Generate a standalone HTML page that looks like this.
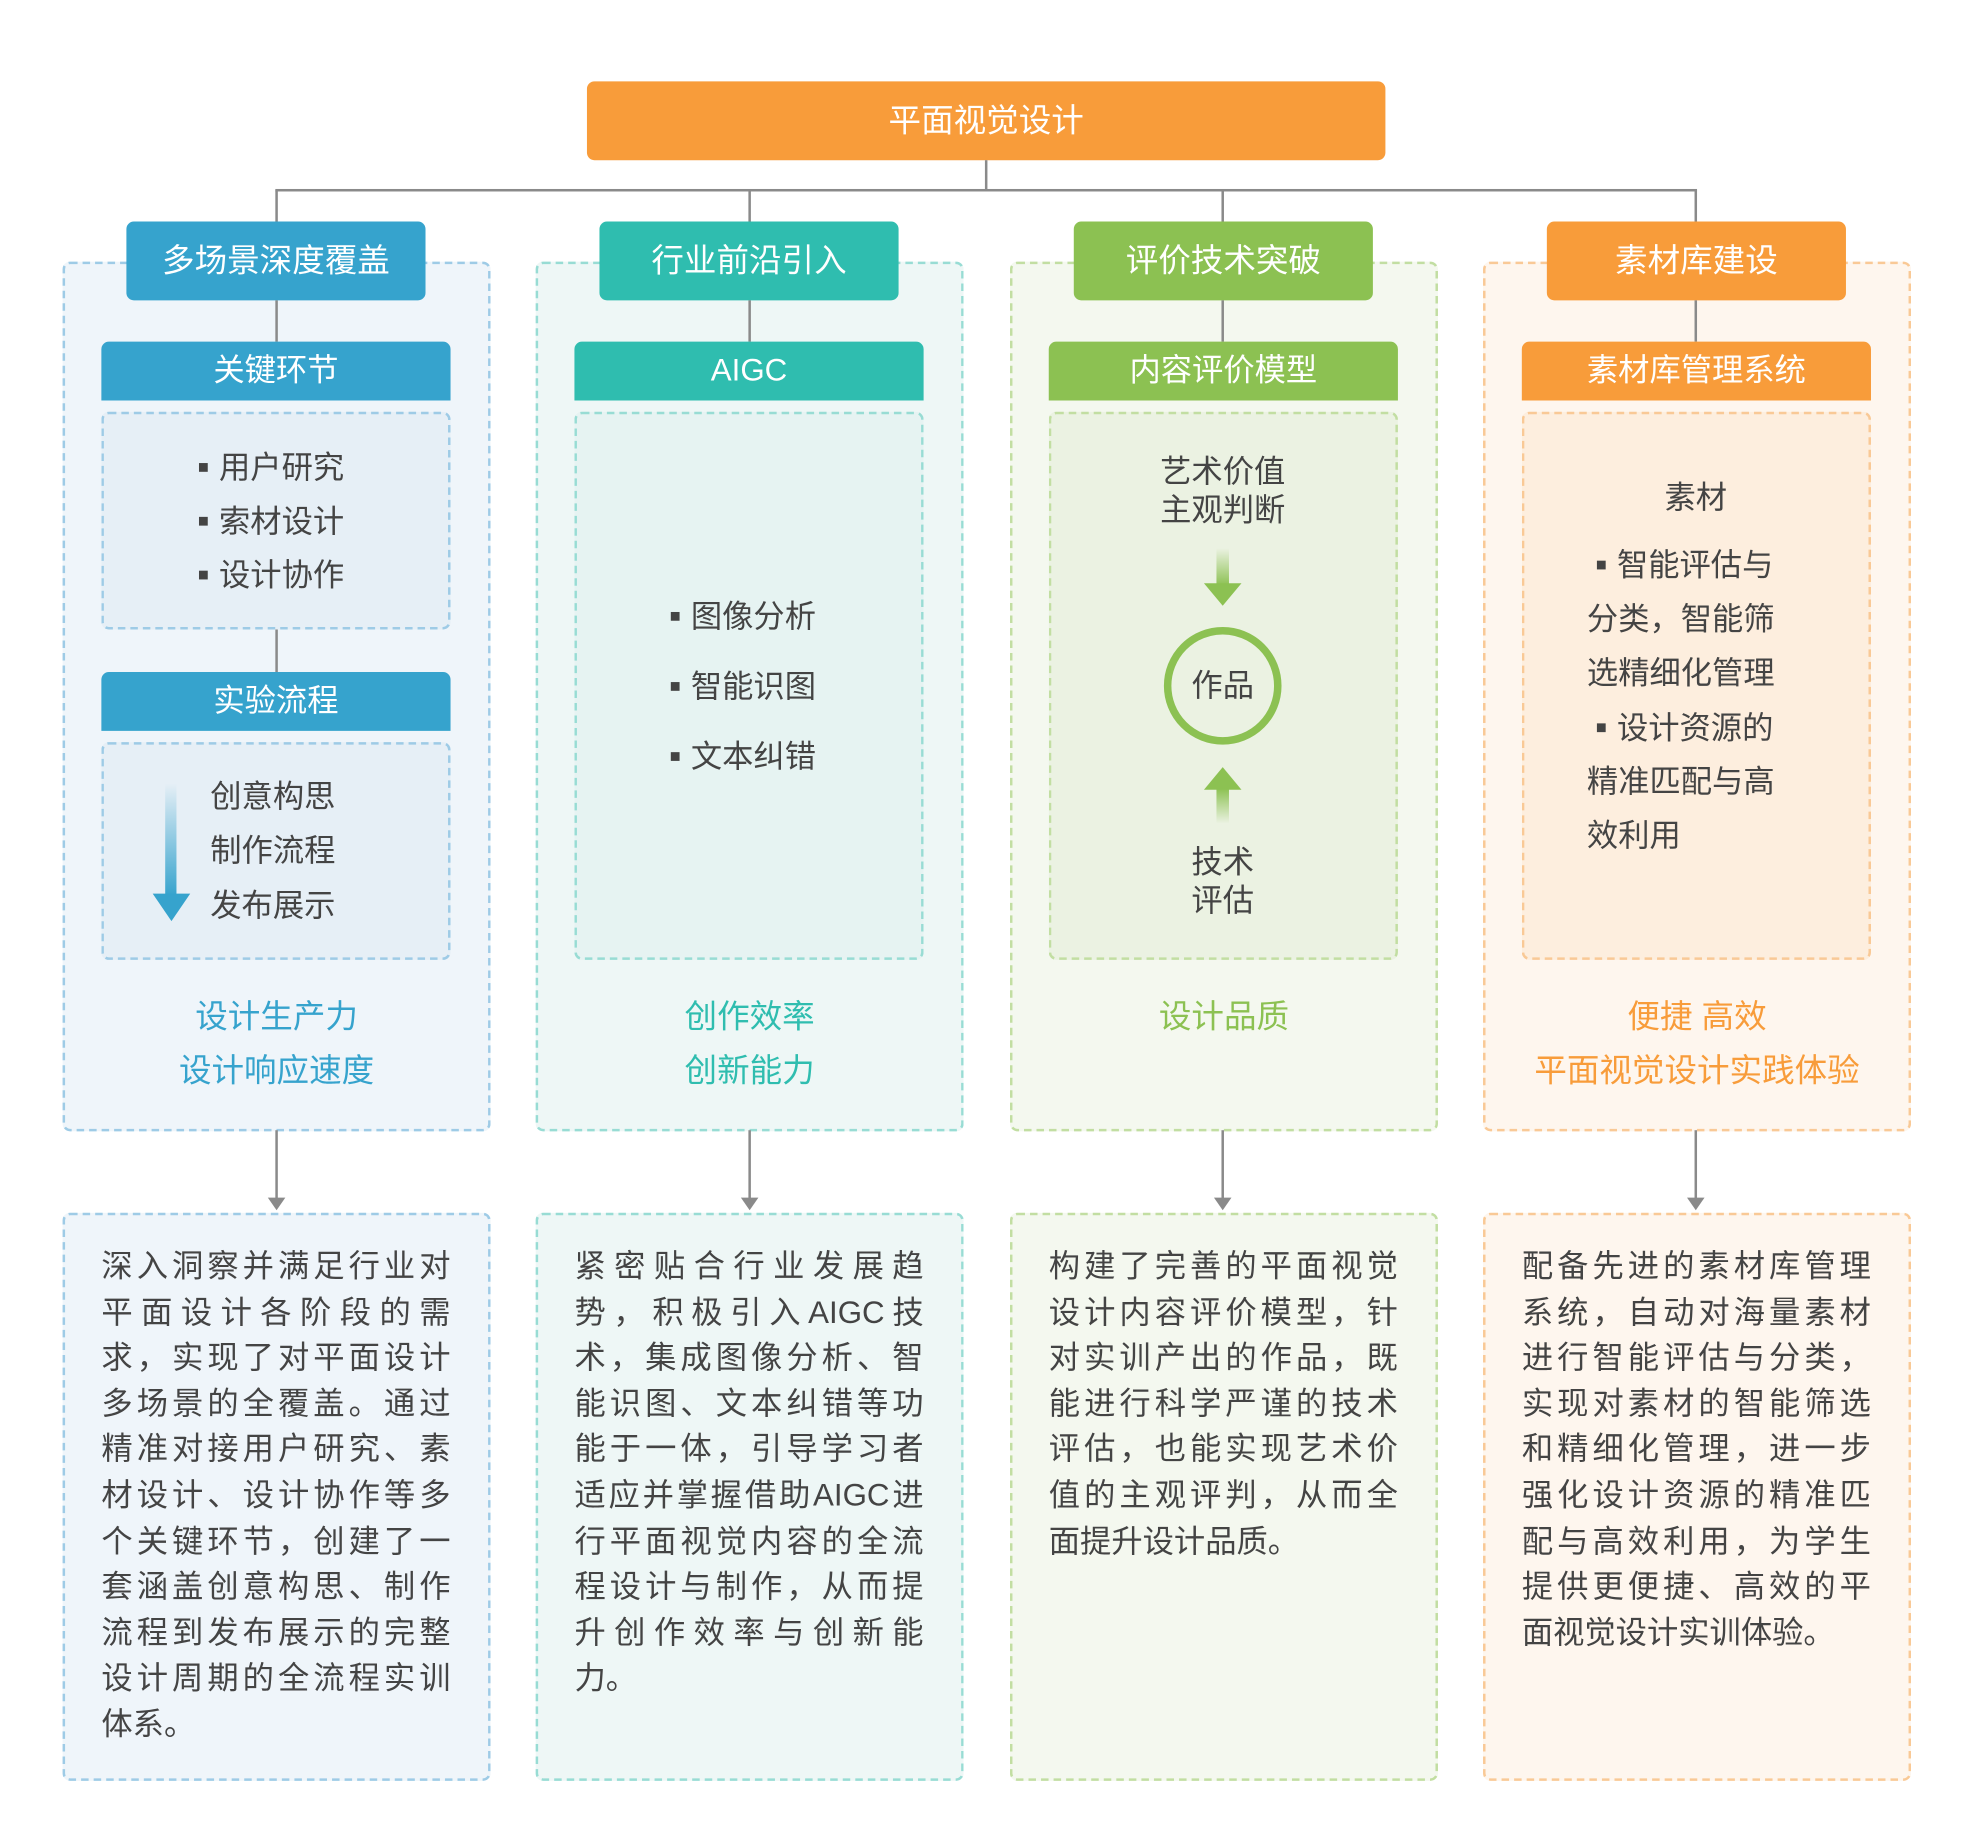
<!DOCTYPE html>
<html><head><meta charset="utf-8"><style>
html,body{margin:0;padding:0;background:#fff;}
body{width:1961px;height:1835px;overflow:hidden;position:relative;font-family:"Liberation Sans","Noto Sans CJK SC",sans-serif;}
#w{position:absolute;left:0;top:0;width:1565px;height:1464px;transform:scale(1.2515);transform-origin:0 0;}
.a{position:absolute;box-sizing:border-box;}
.t{position:absolute;white-space:nowrap;color:#444;font-size:25px;line-height:30px;}
.c{text-align:center;}
.hd{color:#fff;border-radius:6px;text-align:center;font-size:26px;line-height:63px;}
.sh{color:#fff;border-radius:6px 6px 0 0;text-align:center;font-size:25px;line-height:47px;}
.ln{position:absolute;background:#8a8a8a;}
.bt{position:absolute;font-size:25px;color:#444;width:279px;line-height:36.6px;}
.bt div{text-align:justify;text-align-last:justify;white-space:nowrap;height:36.6px;}
.bt div.l{text-align-last:left;}
.sq{display:inline-block;width:7px;height:7px;background:#444;vertical-align:middle;margin-right:9px;position:relative;top:-2px;}
</style></head><body><div id="w">

<div class="a hd" style="left:469px;top:65px;width:638px;height:63px;background:#F89C3A;">平面视觉设计</div>
<div class="ln" style="left:787px;top:128px;width:2px;height:24px;"></div>
<div class="ln" style="left:220px;top:151px;width:1136px;height:2px;"></div>
<div class="ln" style="left:220px;top:152px;width:2px;height:25px;"></div>
<div class="ln" style="left:598px;top:152px;width:2px;height:25px;"></div>
<div class="ln" style="left:976px;top:152px;width:2px;height:25px;"></div>
<div class="ln" style="left:1354px;top:152px;width:2px;height:25px;"></div>

<div class="a" style="left:50px;top:209px;width:342px;height:695px;background:#EFF5FA;border:2px dashed #9ECBE6;border-radius:6px;"></div>
<div class="a" style="left:428px;top:209px;width:342px;height:695px;background:#EEF7F6;border:2px dashed #98DCD4;border-radius:6px;"></div>
<div class="a" style="left:807px;top:209px;width:342px;height:695px;background:#F4F8EF;border:2px dashed #C2DEA2;border-radius:6px;"></div>
<div class="a" style="left:1185px;top:209px;width:342px;height:695px;background:#FEF6EE;border:2px dashed #F9C996;border-radius:6px;"></div>

<div class="a" style="left:50px;top:969px;width:342px;height:454px;background:#EFF5FA;border:2px dashed #9ECBE6;border-radius:6px;"></div>
<div class="a" style="left:428px;top:969px;width:342px;height:454px;background:#EEF7F6;border:2px dashed #98DCD4;border-radius:6px;"></div>
<div class="a" style="left:807px;top:969px;width:342px;height:454px;background:#F4F8EF;border:2px dashed #C2DEA2;border-radius:6px;"></div>
<div class="a" style="left:1185px;top:969px;width:342px;height:454px;background:#FEF6EE;border:2px dashed #F9C996;border-radius:6px;"></div>

<div class="a hd" style="left:101px;top:177px;width:239px;height:63px;background:#36A3CD;">多场景深度覆盖</div>
<div class="a hd" style="left:479px;top:177px;width:239px;height:63px;background:#2FBDAF;">行业前沿引入</div>
<div class="a hd" style="left:858px;top:177px;width:239px;height:63px;background:#8CC152;">评价技术突破</div>
<div class="a hd" style="left:1236px;top:177px;width:239px;height:63px;background:#F89C3A;">素材库建设</div>

<div class="ln" style="left:220px;top:240px;width:2px;height:33px;"></div>
<div class="ln" style="left:598px;top:240px;width:2px;height:33px;"></div>
<div class="ln" style="left:976px;top:240px;width:2px;height:33px;"></div>
<div class="ln" style="left:1354px;top:240px;width:2px;height:33px;"></div>

<div class="a sh" style="left:81px;top:273px;width:279px;height:47px;background:#36A3CD;">关键环节</div>
<div class="a sh" style="left:459px;top:273px;width:279px;height:47px;background:#2FBDAF;">AIGC</div>
<div class="a sh" style="left:838px;top:273px;width:279px;height:47px;background:#8CC152;">内容评价模型</div>
<div class="a sh" style="left:1216px;top:273px;width:279px;height:47px;background:#F89C3A;">素材库管理系统</div>

<div class="a" style="left:81px;top:329px;width:279px;height:174px;background:#E6EFF6;border:2px dashed #9ECBE6;border-radius:6px;"></div>
<div class="ln" style="left:220px;top:503px;width:2px;height:34px;"></div>
<div class="a sh" style="left:81px;top:537px;width:279px;height:47px;background:#36A3CD;">实验流程</div>
<div class="a" style="left:81px;top:593px;width:279px;height:174px;background:#E6EFF6;border:2px dashed #9ECBE6;border-radius:6px;"></div>
<div class="a" style="left:459px;top:329px;width:279px;height:438px;background:#E6F3F2;border:2px dashed #98DCD4;border-radius:6px;"></div>
<div class="a" style="left:838px;top:329px;width:279px;height:438px;background:#EBF2E2;border:2px dashed #C2DEA2;border-radius:6px;"></div>
<div class="a" style="left:1216px;top:329px;width:279px;height:438px;background:#FDEEDE;border:2px dashed #F9C996;border-radius:6px;"></div>

<div class="t" style="left:159px;top:359px;"><span class="sq"></span>用户研究</div>
<div class="t" style="left:159px;top:402px;"><span class="sq"></span>索材设计</div>
<div class="t" style="left:159px;top:445px;"><span class="sq"></span>设计协作</div>
<svg class="a" style="left:120px;top:626px;" width="34" height="112">
<defs><linearGradient id="gb" x1="0" y1="0" x2="0" y2="1"><stop offset="0" stop-color="#36A3CD" stop-opacity="0"/><stop offset="1" stop-color="#36A3CD"/></linearGradient></defs>
<rect x="12" y="0" width="9" height="90" fill="url(#gb)"/><polygon points="2,88 32,88 17,110" fill="#36A3CD"/></svg>
<div class="t" style="left:168px;top:622px;">创意构思</div>
<div class="t" style="left:168px;top:665px;">制作流程</div>
<div class="t" style="left:168px;top:709px;">发布展示</div>

<div class="t" style="left:536px;top:478px;"><span class="sq"></span>图像分析</div>
<div class="t" style="left:536px;top:534px;"><span class="sq"></span>智能识图</div>
<div class="t" style="left:536px;top:590px;"><span class="sq"></span>文本纠错</div>

<div class="t c" style="left:877px;width:200px;top:362px;">艺术价值</div>
<div class="t c" style="left:877px;width:200px;top:393px;">主观判断</div>
<svg class="a" style="left:917px;top:436px;" width="120" height="224">
<defs><linearGradient id="g1" x1="0" y1="0" x2="0" y2="1"><stop offset="0" stop-color="#8CC152" stop-opacity="0"/><stop offset="1" stop-color="#8CC152"/></linearGradient>
<linearGradient id="g2" x1="0" y1="1" x2="0" y2="0"><stop offset="0" stop-color="#8CC152" stop-opacity="0"/><stop offset="1" stop-color="#8CC152"/></linearGradient></defs>
<rect x="55" y="2" width="10" height="30" fill="url(#g1)"/><polygon points="45,30 75,30 60,48" fill="#8CC152"/>
<circle cx="60" cy="112" r="44" fill="none" stroke="#8CC152" stroke-width="6"/>
<polygon points="45,195 75,195 60,177" fill="#8CC152"/><rect x="55" y="194" width="10" height="28" fill="url(#g2)"/>
</svg>
<div class="t c" style="left:877px;width:200px;top:533px;">作品</div>
<div class="t c" style="left:877px;width:200px;top:674px;">技术</div>
<div class="t c" style="left:877px;width:200px;top:705px;">评估</div>

<div class="t c" style="left:1255px;width:200px;top:383px;">素材</div>
<div class="t" style="left:1276px;top:437px;"><span class="sq"></span>智能评估与</div>
<div class="t" style="left:1268px;top:480px;">分类，智能筛</div>
<div class="t" style="left:1268px;top:523px;">选精细化管理</div>
<div class="t" style="left:1276px;top:567px;"><span class="sq"></span>设计资源的</div>
<div class="t" style="left:1268px;top:610px;">精准匹配与高</div>
<div class="t" style="left:1268px;top:653px;">效利用</div>

<div class="t c" style="left:71px;width:300px;top:797px;font-size:26px;color:#36A3CD;">设计生产力</div>
<div class="t c" style="left:71px;width:300px;top:840px;font-size:26px;color:#36A3CD;">设计响应速度</div>
<div class="t c" style="left:449px;width:300px;top:797px;font-size:26px;color:#2FBDAF;">创作效率</div>
<div class="t c" style="left:449px;width:300px;top:840px;font-size:26px;color:#2FBDAF;">创新能力</div>
<div class="t c" style="left:828px;width:300px;top:797px;font-size:26px;color:#8CC152;">设计品质</div>
<div class="t c" style="left:1206px;width:300px;top:797px;font-size:26px;color:#F89C3A;">便捷 高效</div>
<div class="t c" style="left:1176px;width:360px;top:840px;font-size:26px;color:#F89C3A;">平面视觉设计实践体验</div>

<svg class="a" style="left:0;top:903px;" width="1565" height="66">
<g stroke="#8a8a8a" stroke-width="2"><line x1="221" y1="0" x2="221" y2="56"/><line x1="599" y1="0" x2="599" y2="56"/><line x1="977" y1="0" x2="977" y2="56"/><line x1="1355" y1="0" x2="1355" y2="56"/></g>
<g fill="#8a8a8a"><polygon points="214,54 228,54 221,64"/><polygon points="592,54 606,54 599,64"/><polygon points="970,54 984,54 977,64"/><polygon points="1348,54 1362,54 1355,64"/></g>
</svg>

<div class="bt" style="left:81px;top:994px;">
<div>深入洞察并满足行业对</div><div>平面设计各阶段的需</div><div>求，实现了对平面设计</div><div>多场景的全覆盖。通过</div><div>精准对接用户研究、素</div><div>材设计、设计协作等多</div><div>个关键环节，创建了一</div><div>套涵盖创意构思、制作</div><div>流程到发布展示的完整</div><div>设计周期的全流程实训</div><div class="l">体系。</div></div>
<div class="bt" style="left:459px;top:994px;">
<div>紧密贴合行业发展趋</div><div>势，积极引入AIGC技</div><div>术，集成图像分析、智</div><div>能识图、文本纠错等功</div><div>能于一体，引导学习者</div><div>适应并掌握借助AIGC进</div><div>行平面视觉内容的全流</div><div>程设计与制作，从而提</div><div>升创作效率与创新能</div><div class="l">力。</div></div>
<div class="bt" style="left:838px;top:994px;">
<div>构建了完善的平面视觉</div><div>设计内容评价模型，针</div><div>对实训产出的作品，既</div><div>能进行科学严谨的技术</div><div>评估，也能实现艺术价</div><div>值的主观评判，从而全</div><div class="l">面提升设计品质。</div></div>
<div class="bt" style="left:1216px;top:994px;">
<div>配备先进的素材库管理</div><div>系统，自动对海量素材</div><div>进行智能评估与分类，</div><div>实现对素材的智能筛选</div><div>和精细化管理，进一步</div><div>强化设计资源的精准匹</div><div>配与高效利用，为学生</div><div>提供更便捷、高效的平</div><div class="l">面视觉设计实训体验。</div></div>

</div></body></html>
